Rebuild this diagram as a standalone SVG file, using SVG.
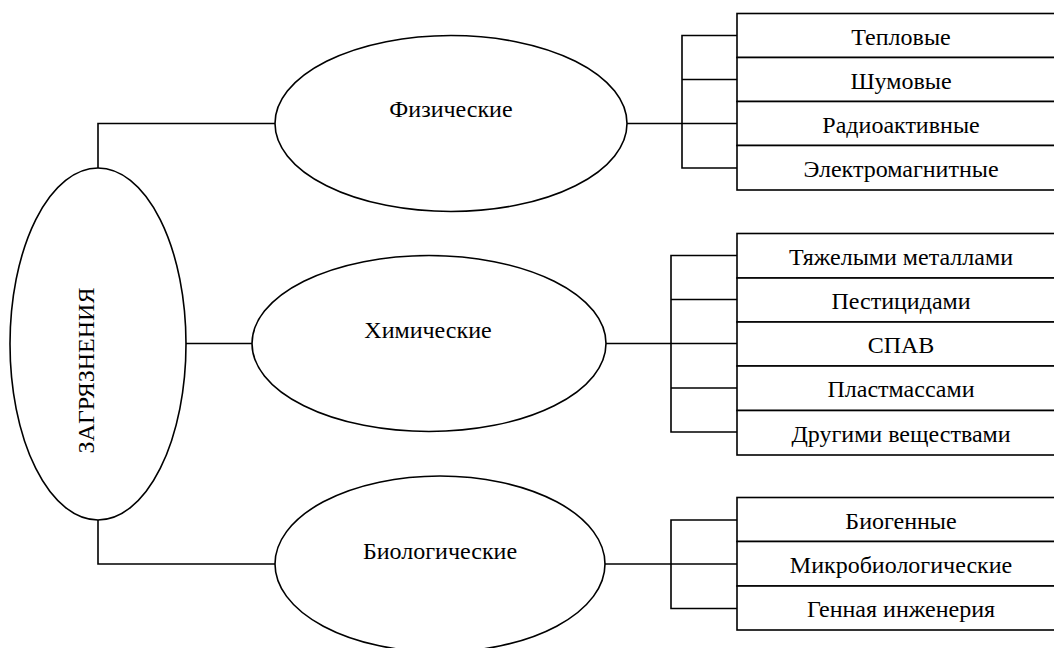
<svg xmlns="http://www.w3.org/2000/svg" width="1054" height="648" viewBox="0 0 1054 648">
<style>
.e{fill:#fff;stroke:#000;stroke-width:1.6}
.b{fill:#fff;stroke:#000;stroke-width:1.6}
.c{fill:none;stroke:#000;stroke-width:1.6}
text{font-family:"Liberation Serif","Times New Roman",serif;font-size:24px;fill:#000;text-anchor:middle}
</style>
<rect width="1054" height="648" fill="#fff"/>
<g id="connectors">
<polyline class="c" points="98,168 98,123.5 275,123.5"/>
<polyline class="c" points="186,343.5 252,343.5"/>
<polyline class="c" points="98,520 98,564 275,564"/>
<line class="c" x1="627" y1="123.5" x2="682" y2="123.5"/>
<polyline class="c" points="737,35.5 682,35.5 682,168 737,168"/>
<line class="c" x1="682" y1="79.5" x2="737" y2="79.5"/>
<line class="c" x1="682" y1="123.5" x2="737" y2="123.5"/>
<line class="c" x1="606" y1="343.5" x2="671" y2="343.5"/>
<polyline class="c" points="737,255.5 671,255.5 671,432 737,432"/>
<line class="c" x1="671" y1="299.5" x2="737" y2="299.5"/>
<line class="c" x1="671" y1="343.5" x2="737" y2="343.5"/>
<line class="c" x1="671" y1="388" x2="737" y2="388"/>
<line class="c" x1="605" y1="564" x2="671" y2="564"/>
<polyline class="c" points="737,520 671,520 671,608.5 737,608.5"/>
<line class="c" x1="671" y1="564" x2="737" y2="564"/>
</g>
<g id="root">
<ellipse class="e" cx="98" cy="344" rx="88" ry="176"/>
<text transform="translate(94,370.5) rotate(-90)">ЗАГРЯЗНЕНИЯ</text>
</g>
<g id="phys">
<ellipse class="e" cx="451" cy="123.5" rx="176" ry="88"/>
<text x="451" y="117">Физические</text>
</g>
<g id="chem">
<ellipse class="e" cx="429" cy="343.5" rx="177" ry="88"/>
<text x="428" y="338">Химические</text>
</g>
<g id="bio">
<ellipse class="e" cx="440" cy="564" rx="165" ry="88"/>
<text x="440" y="559">Биологические</text>
</g>
<g id="phys-list">
<rect class="b" x="737" y="13.5" width="330" height="44"/>
<rect class="b" x="737" y="57.5" width="330" height="44"/>
<rect class="b" x="737" y="101.5" width="330" height="44"/>
<rect class="b" x="737" y="145.5" width="330" height="44.5"/>
<text x="901" y="44.5">Тепловые</text>
<text x="901" y="88.5">Шумовые</text>
<text x="901" y="132.5">Радиоактивные</text>
<text x="901" y="177">Электромагнитные</text>
</g>
<g id="chem-list">
<rect class="b" x="737" y="233.5" width="330" height="44.5"/>
<rect class="b" x="737" y="278" width="330" height="44"/>
<rect class="b" x="737" y="322" width="330" height="44"/>
<rect class="b" x="737" y="366" width="330" height="44.5"/>
<rect class="b" x="737" y="410.5" width="330" height="44.5"/>
<text x="901" y="264.5">Тяжелыми металлами</text>
<text x="901" y="308.5">Пестицидами</text>
<text x="901" y="352.5">СПАВ</text>
<text x="901" y="397">Пластмассами</text>
<text x="901" y="441.5">Другими веществами</text>
</g>
<g id="bio-list">
<rect class="b" x="737" y="497.5" width="330" height="44"/>
<rect class="b" x="737" y="541.5" width="330" height="44.5"/>
<rect class="b" x="737" y="586" width="330" height="44"/>
<text x="901" y="529">Биогенные</text>
<text x="901" y="573">Микробиологические</text>
<text x="901" y="617">Генная инженерия</text>
</g>
</svg>
